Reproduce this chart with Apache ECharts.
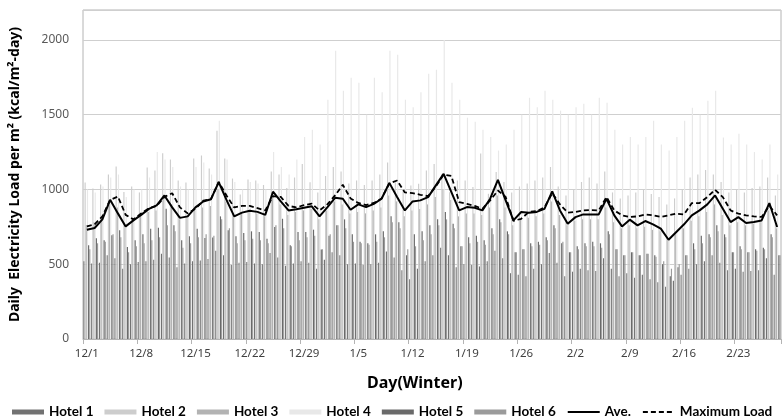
<!DOCTYPE html>
<html>
<head>
<meta charset="utf-8">
<script src="https://cdn.jsdelivr.net/npm/echarts@6/dist/echarts.min.js"></script>
<style>
  html, body { margin: 0; padding: 0; background: #fff; }
  #chart { width: 782px; height: 418px; }
</style>
</head>
<body>
<div id="chart"></div>
<script>
// Winter season: 12/1 .. 2/28, one category per day
const monthSpans = [[12, 31], [1, 31], [2, 28]];
const days = [];
monthSpans.forEach(([m, n]) => { for (let d = 1; d <= n; d++) days.push(m + '/' + d); });

const seriesNames = ['Hotel 1', 'Hotel 2', 'Hotel 3', 'Hotel 4', 'Hotel 5', 'Hotel 6', 'Ave.', 'Maximum Load'];

// Daily electricity load per m2 (kcal/m2-day)
const hotel1 = [
  520, 505, 510, 560, 540, 470, 500,
  515, 520, 530, 570, 545, 480, 505,
  520, 525, 535, 590, 560, 495, 510,
  515, 505, 500, 575, 545, 490, 505,
  520, 510, 470, 530, 580, 560, 500,
  505, 495, 500, 510, 585, 545, 460,
  400, 470, 520, 560, 610, 560, 480,
  500, 495, 485, 520, 590, 540, 440,
  430, 420, 470, 500, 575, 510, 420,
  450, 470, 460, 455, 540, 470, 420,
  440, 410, 430, 400, 380, 350, 390,
  430, 470, 500, 520, 560, 510, 460,
  470, 450, 455, 460, 540, 430
];
const hotel2 = [
  1047, 1007, 1033, 1100, 1153, 983, 1020,
  980, 1147, 1127, 1242, 1200, 1060, 1047,
  1207, 1227, 1140, 1393, 1207, 1073, 967,
  1067, 1060, 1030, 1120, 1100, 1010, 1080,
  1171, 1049, 980, 1090, 1150, 1120, 1040,
  1060, 1030, 1060, 1100, 1180, 1049, 1000,
  1027, 1038, 1127, 1171, 1104, 982, 1060,
  1060, 1016, 1240, 971, 1116, 1050, 980,
  1020, 1040, 1060, 1080, 1150, 1020, 960,
  1000, 1050, 1080, 1040, 1120, 980, 940,
  960, 980, 1000, 970, 950, 900, 940,
  1000, 1080, 1100, 1130, 1100, 1050, 980,
  1000, 980, 1010, 1020, 1080, 960
];
const hotel3 = [
  760, 780, 820, 900, 880, 760, 800,
  820, 850, 860, 940, 900, 800, 820,
  860, 880, 890, 1000, 920, 820, 840,
  850, 840, 820, 950, 900, 830, 850,
  860, 870, 800, 860, 920, 900, 840,
  850, 840, 860, 880, 960, 920, 820,
  860, 870, 900, 950, 1000, 930, 820,
  840, 840, 830, 880, 960, 880, 760,
  800, 810, 820, 840, 920, 830, 760,
  790, 800, 800, 800, 880, 780, 740,
  760, 740, 750, 730, 720, 660, 700,
  740, 790, 820, 850, 900, 830, 760,
  780, 760, 770, 780, 860, 740
];
const hotel4 = [
  1000, 980, 1020, 1080, 1100, 950, 1000,
  1000, 1080, 1250, 1200, 1150, 1020, 1000,
  1150, 1180, 1100, 1460, 1200, 1050, 1000,
  1050, 1040, 1000, 1250, 1150, 1100, 1200,
  1350, 1400, 1300, 1600, 1927, 1660, 1747,
  1713, 1500, 1747, 1650, 1927, 1900, 1600,
  1550, 1650, 1773, 1800, 2000, 1713, 1600,
  1480, 1453, 1400, 1350, 1260, 1300, 1400,
  1500, 1613, 1550, 1660, 1600, 1527, 1500,
  1550, 1573, 1500, 1613, 1580, 1400, 1300,
  1350, 1300, 1350, 1460, 1300, 1260, 1350,
  1460, 1547, 1500, 1593, 1660, 1347, 1300,
  1373, 1300, 1250, 1200, 1300, 1100
];
const hotel5 = [
  627, 673, 660, 693, 727, 615, 660,
  700, 738, 744, 871, 760, 660, 687,
  738, 676, 678, 820, 727, 687, 709,
  720, 716, 671, 749, 804, 627, 716,
  716, 731, 598, 690, 760, 800, 700,
  650, 640, 700, 720, 820, 780, 560,
  700, 720, 760, 800, 849, 771, 620,
  680, 690, 660, 740, 800, 720, 580,
  600, 640, 650, 680, 760, 640, 580,
  620, 640, 650, 640, 720, 600, 560,
  580, 560, 570, 560, 500, 420, 480,
  560, 640, 690, 700, 760, 700, 580,
  620, 580, 600, 610, 700, 560
];
const hotel6 = [
  600, 640, 650, 700, 680, 580, 620,
  640, 660, 680, 760, 720, 610, 640,
  680, 700, 690, 800, 740, 640, 660,
  670, 660, 640, 760, 740, 620, 660,
  680, 690, 600, 700, 760, 740, 650,
  640, 630, 650, 680, 780, 740, 600,
  620, 660, 700, 760, 800, 740, 620,
  640, 650, 630, 700, 780, 700, 580,
  600, 620, 630, 660, 740, 650, 580,
  600, 620, 620, 610, 700, 600, 560,
  580, 560, 570, 550, 520, 470, 500,
  560, 600, 640, 680, 720, 680, 580,
  600, 580, 590, 600, 680, 560
];
const average = [
  731, 742, 800, 931, 840, 753, 793,
  830, 870, 893, 960, 880, 810, 820,
  880, 920, 935, 1049, 930, 820, 845,
  858, 850, 830, 985, 920, 860, 868,
  878, 887, 820, 880, 944, 938, 864,
  900, 882, 904, 938, 1044, 949, 860,
  920, 927, 949, 1027, 1104, 982, 860,
  882, 878, 860, 938, 1064, 927, 793,
  849, 845, 850, 870, 987, 860, 771,
  815, 833, 833, 833, 938, 827, 753,
  798, 760, 789, 767, 738, 664, 716,
  767, 827, 860, 900, 960, 871, 782,
  815, 776, 782, 793, 909, 749
];
const maximumLoad = [
  753, 767, 820, 930, 953, 830, 800,
  840, 875, 890, 950, 975, 880, 840,
  870, 925, 935, 1050, 960, 880, 890,
  890, 875, 860, 955, 950, 890, 880,
  895, 905, 860, 900, 960, 1031, 940,
  910, 895, 910, 940, 1040, 1060, 980,
  976, 964, 955, 1020, 1100, 1090, 916,
  904, 890, 871, 927, 993, 950, 790,
  804, 850, 855, 880, 975, 900, 845,
  850, 860, 862, 860, 949, 860, 827,
  816, 820, 833, 827, 816, 827, 838,
  833, 909, 909, 949, 998, 949, 860,
  838, 827, 820, 816, 891, 827
];

const hotels = [hotel1, hotel2, hotel3, hotel4, hotel5, hotel6];
const barColors = ['#727272', '#cdcdcd', '#b3b3b3', '#e8e8e8', '#6a6a6a', '#9b9b9b'];

const chart = echarts.init(document.getElementById('chart'), null, { renderer: 'canvas' });

const barSeries = hotels.map((vals, i) => ({
  name: seriesNames[i],
  type: 'bar',
  data: vals,
  barGap: '0%',
  barCategoryGap: '10%',
  silent: true,
  itemStyle: { color: barColors[i] },
  emphasis: { disabled: true },
  z: 2
}));

const lineSeries = [
  {
    name: seriesNames[6], type: 'line', data: average,
    symbol: 'none', silent: true, z: 5,
    lineStyle: { color: '#000', width: 2, type: 'solid' },
    itemStyle: { color: '#000' }
  },
  {
    name: seriesNames[7], type: 'line', data: maximumLoad,
    symbol: 'none', silent: true, z: 4,
    lineStyle: { color: '#000', width: 1.8, type: [5, 3] },
    itemStyle: { color: '#000' }
  }
];

const fontMain = '"Noto Sans", "Open Sans", sans-serif';
// line entries in the legend show only their stroke
const hiddenMarker = { opacity: 0, borderWidth: 0 };

chart.setOption({
  animation: false,
  backgroundColor: '#fff',
  title: {
    text: 'Day(Winter)',
    left: 362, top: 370,
    textStyle: { fontFamily: fontMain, fontSize: 16, fontWeight: 'bold', color: '#000' }
  },
  grid: {
    left: 83, right: 1, top: 10, bottom: 79,
    show: true, borderColor: '#b4b4b4', borderWidth: 1
  },
  legend: {
    data: seriesNames.map((n, i) => i < 6 ? { name: n, icon: 'rect' } : { name: n, itemStyle: hiddenMarker }),
    left: 7, top: 400,
    itemWidth: 32, itemHeight: 5, itemGap: 11,
    textStyle: { fontFamily: 'Lato, "Noto Sans", sans-serif', fontSize: 13.5, fontWeight: 'bold', color: '#000' },
    selectedMode: false
  },
  xAxis: {
    type: 'category',
    data: days,
    boundaryGap: true,
    axisLine: { lineStyle: { color: '#b4b4b4', width: 1 } },
    axisTick: { show: true, interval: 6, length: 5, lineStyle: { color: '#b4b4b4' } },
    axisLabel: { interval: 6, margin: 9, fontFamily: fontMain, fontSize: 11.5, color: '#404040' },
    splitLine: { show: false }
  },
  yAxis: {
    type: 'value',
    min: 0, max: 2200, interval: 500,
    name: 'Daily  Electricity Load per m\u00B2 (kcal/m\u00B2-day)',
    nameLocation: 'middle',
    nameGap: 61,
    nameTextStyle: { fontFamily: fontMain, fontSize: 14, fontWeight: 'bold', color: '#000' },
    axisLine: { show: false },
    axisTick: { show: false },
    axisLabel: {
      showMaxLabel: false, margin: 14, fontFamily: fontMain, fontSize: 12, color: '#595959',
      formatter: v => String(v)
    },
    splitLine: { lineStyle: { color: '#cfcfcf', width: 1 } }
  },
  series: barSeries.concat(lineSeries)
});
</script>
</body>
</html>
